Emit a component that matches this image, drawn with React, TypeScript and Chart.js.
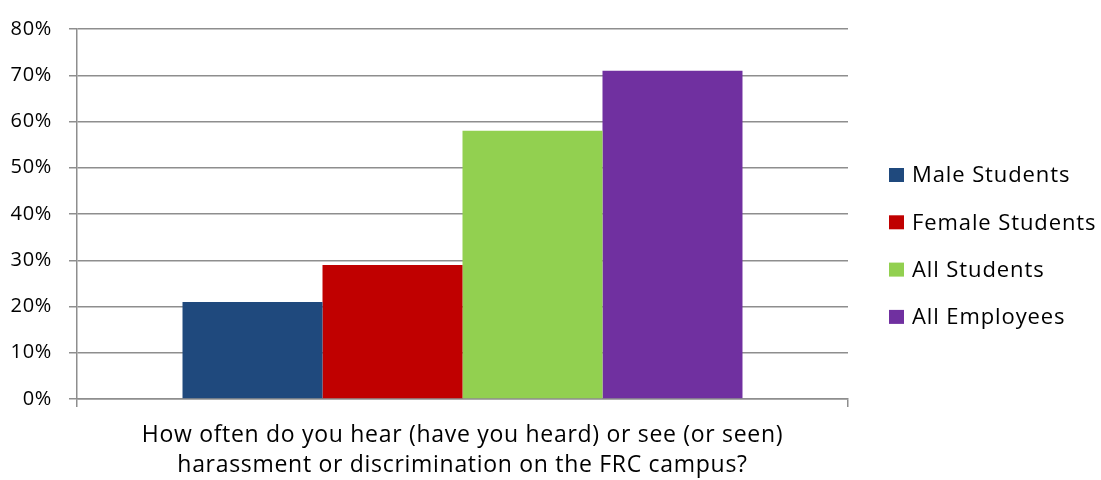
import { useEffect, useRef } from "react";
import { Chart, registerables } from "chart.js";

Chart.register(...registerables);

// Survey question (drawn as the two-line category label)
const categories = [
  [
    "How often do you hear (have you heard) or see (or seen)",
    "harassment or discrimination on the FRC campus?",
  ],
];

const seriesNames = ["Male Students", "Female Students", "All Students", "All Employees"];
const maleStudents = [21];
const femaleStudents = [29];
const allStudents = [58];
const allEmployees = [71];
const seriesColors = ["#1F497D", "#C00000", "#92D050", "#7030A0"];

const yMin = 0;
const yMax = 80;
const yStep = 10;

const FONT = "'Open Sans', 'Noto Sans', sans-serif";
const GRID = "#8e8e8e";

// Slightly looser tracking for all chart text
const tracking = {
  id: "tracking",
  beforeDraw(chart: any) {
    chart.ctx.letterSpacing = "0.7px";
  },
};

// Legend drawn to the right of the plot, one row per dataset
const sideLegend = {
  id: "sideLegend",
  afterDraw(chart: any) {
    const { ctx, chartArea } = chart;
    const boxX = chartArea.right + 41;
    const firstY = 175;
    const rowGap = 47.3;
    ctx.save();
    ctx.font = `22px ${FONT}`;
    ctx.letterSpacing = "0.9px";
    ctx.textBaseline = "middle";
    ctx.textAlign = "left";
    chart.data.datasets.forEach((ds: any, i: number) => {
      const y = firstY + i * rowGap;
      ctx.fillStyle = ds.backgroundColor;
      ctx.fillRect(boxX, y - 7, 15, 14);
      ctx.fillStyle = "#000000";
      ctx.fillText(ds.label, boxX + 23, y + 1);
    });
    ctx.restore();
  },
};

export default function App() {
  const canvasRef = useRef<HTMLCanvasElement | null>(null);

  useEffect(() => {
    document.body.style.margin = "0";
    const canvas = canvasRef.current;
    if (!canvas) return;
    const values = [maleStudents, femaleStudents, allStudents, allEmployees];
    const chart = new Chart(canvas, {
      type: "bar",
      data: {
        labels: categories as any,
        datasets: seriesNames.map((name, i) => ({
          label: name,
          data: values[i],
          backgroundColor: seriesColors[i],
          borderWidth: 0,
          barPercentage: 1,
          categoryPercentage: 0.7263,
        })),
      },
      options: {
        responsive: false,
        animation: false,
        layout: { padding: { top: 24, right: 253, left: 0, bottom: 0 } },
        plugins: {
          legend: { display: false },
          tooltip: { enabled: false },
        },
        scales: {
          x: {
            afterFit(scale: any) {
              scale.height = 81;
            },
            grid: {
              display: true,
              drawOnChartArea: false,
              drawTicks: true,
              tickLength: 8,
              color: GRID,
              lineWidth: 1.5,
            },
            border: { display: true, color: GRID, width: 1.5 },
            ticks: {
              color: "#000000",
              font: { family: FONT, size: 23, lineHeight: 1.33 },
              padding: 13,
              maxRotation: 0,
              autoSkip: false,
            },
          },
          y: {
            min: yMin,
            max: yMax,
            afterFit(scale: any) {
              scale.width = 77;
            },
            grid: {
              color: GRID,
              lineWidth: 1.5,
              tickLength: 8,
              drawTicks: true,
            },
            border: { display: true, color: GRID, width: 1.5 },
            ticks: {
              stepSize: yStep,
              color: "#000000",
              padding: 17,
              font: { family: FONT, size: 20 },
              callback: (v: any) => `${v}%`,
            },
          },
        },
      },
      plugins: [tracking, sideLegend],
    });
    return () => chart.destroy();
  }, []);

  return (
    <div style={{ width: 1101, height: 480 }}>
      <canvas ref={canvasRef} width={1101} height={480} />
    </div>
  );
}
